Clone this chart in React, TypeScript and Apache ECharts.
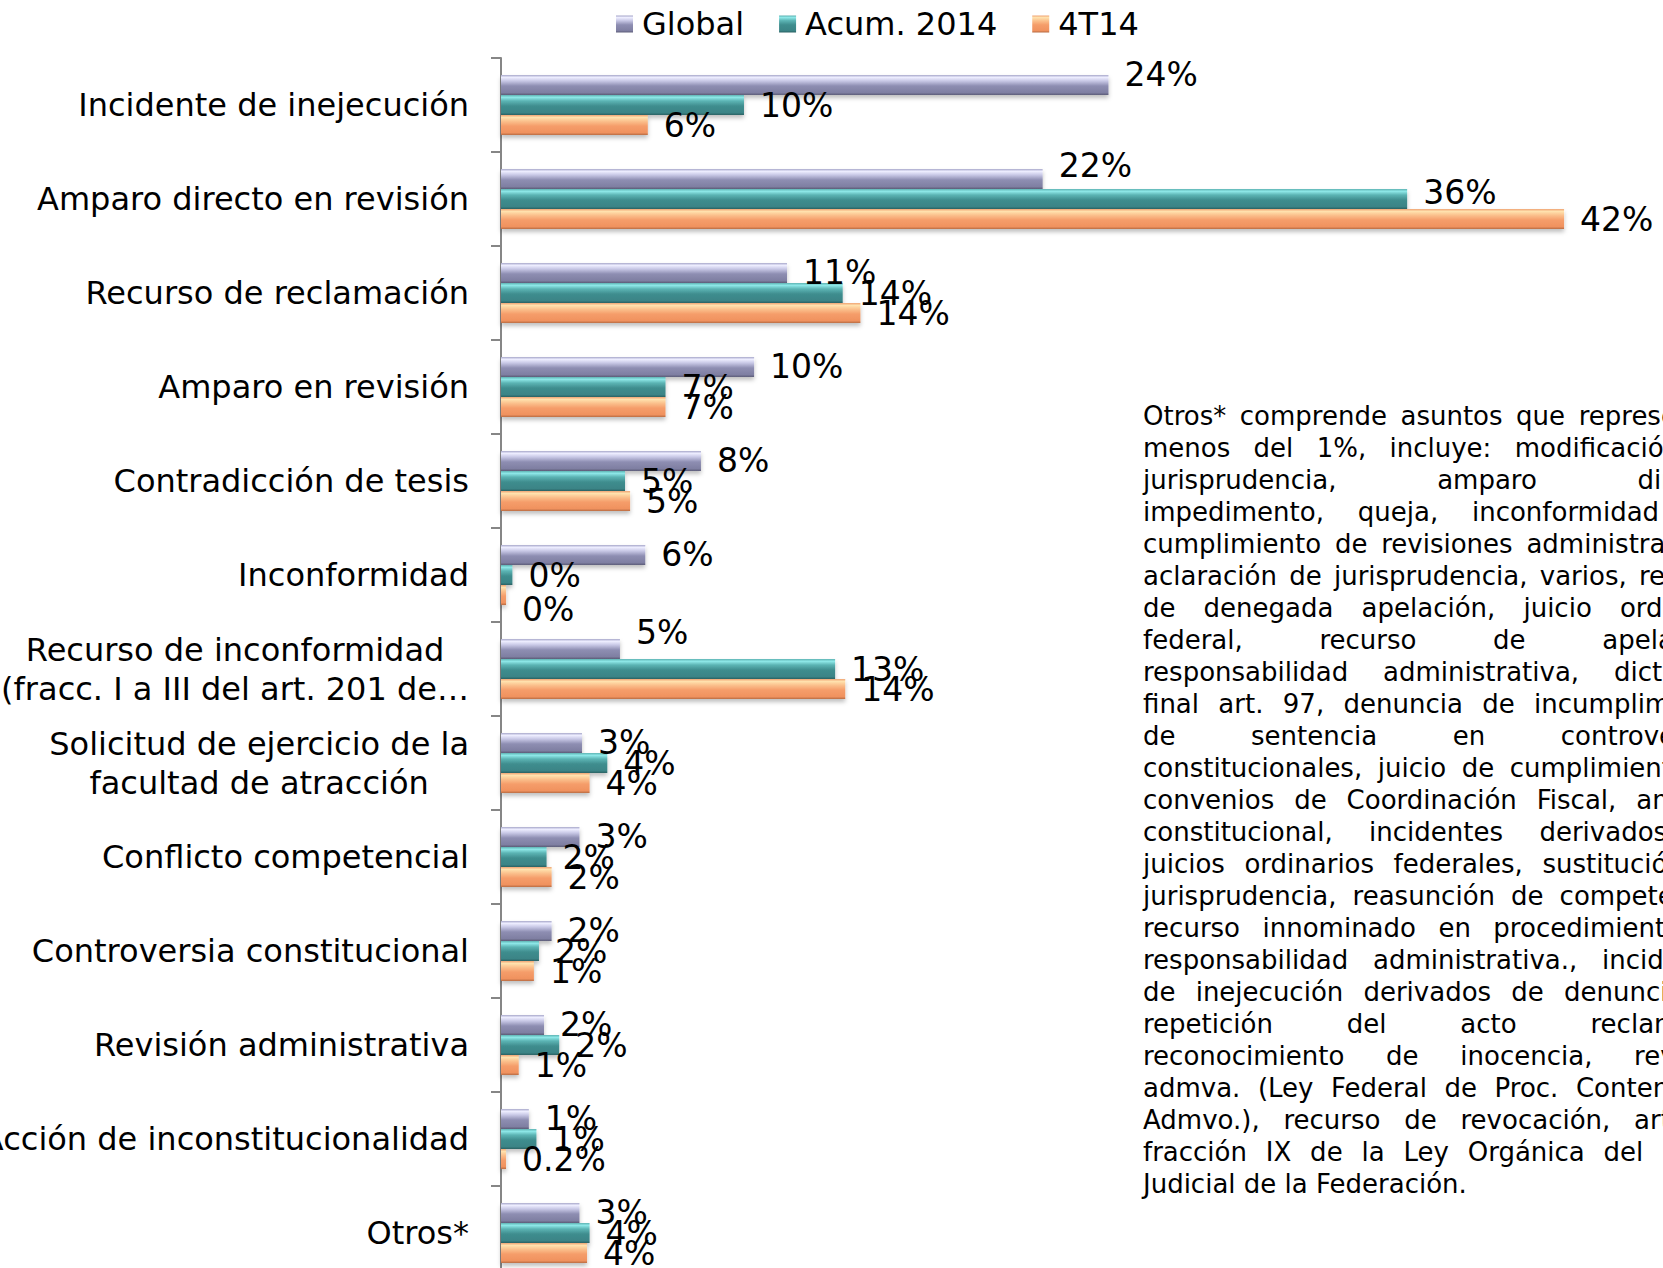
import React, { useEffect, useRef } from "react";
import * as echarts from "echarts";

const categories = [
  "Incidente de inejecución",
  "Amparo directo en revisión",
  "Recurso de reclamación",
  "Amparo en revisión",
  "Contradicción de tesis",
  "Inconformidad",
  "Recurso de inconformidad\n(fracc. I a III del art. 201 de…",
  "Solicitud de ejercicio de la\nfacultad de atracción",
  "Conflicto competencial",
  "Controversia constitucional",
  "Revisión administrativa",
  "Acción de inconstitucionalidad",
  "Otros*",
];
const seriesNames = ["Global", "Acum. 2014", "4T14"];
const globalValues = [24, 21.4, 11.3, 10, 7.9, 5.7, 4.7, 3.2, 3.1, 2.0, 1.7, 1.1, 3.1];
const acumValues = [9.6, 35.8, 13.5, 6.5, 4.9, 0.45, 13.2, 4.2, 1.8, 1.5, 2.3, 1.4, 3.5];
const t4Values = [5.8, 42, 14.2, 6.5, 5.1, 0.2, 13.6, 3.5, 2.0, 1.3, 0.7, 0.2, 3.4];
const globalLabels = ["24%", "22%", "11%", "10%", "8%", "6%", "5%", "3%", "3%", "2%", "2%", "1%", "3%"];
const acumLabels = ["10%", "36%", "14%", "7%", "5%", "0%", "13%", "4%", "2%", "2%", "2%", "1%", "4%"];
const t4Labels = ["6%", "42%", "14%", "7%", "5%", "0%", "14%", "4%", "2%", "1%", "1%", "0.2%", "4%"];

const noteLines = [
  "Otros* comprende asuntos que representan",
  "menos del 1%, incluye: modificación de",
  "jurisprudencia, amparo directo,",
  "impedimento, queja, inconformidad por",
  "cumplimiento de revisiones administrativas,",
  "aclaración de jurisprudencia, varios, recurso",
  "de denegada apelación, juicio ordinario",
  "federal, recurso de apelación,",
  "responsabilidad administrativa, dictamen",
  "final art. 97, denuncia de incumplimiento",
  "de sentencia en controversias",
  "constitucionales, juicio de cumplimiento de",
  "convenios de Coordinación Fiscal, amparo",
  "constitucional, incidentes derivados de",
  "juicios ordinarios federales, sustitución de",
  "jurisprudencia, reasunción de competencia,",
  "recurso innominado en procedimiento de",
  "responsabilidad administrativa., incidentes",
  "de inejecución derivados de denuncia de",
  "repetición del acto reclamado,",
  "reconocimiento de inocencia, revisión",
  "admva. (Ley Federal de Proc. Contencioso",
  "Admvo.), recurso de revocación, art. 11",
  "fracción IX de la Ley Orgánica del Poder",
  "Judicial de la Federación.",
];

const FONT = '"DejaVu Sans", Verdana, sans-serif';

const grad = (stops: [number, string][]) =>
  new echarts.graphic.LinearGradient(0, 0, 0, 1, stops.map(([offset, color]) => ({ offset, color })));

const seriesColors = [
  grad([[0, "#a4a4c8"], [0.12, "#eeeeff"], [0.3, "#c8c8e6"], [0.55, "#8e8eb2"], [0.88, "#7f7fa2"], [1, "#5e5e7a"]]),
  grad([[0, "#5db2b2"], [0.12, "#8ee8e8"], [0.3, "#5cb4b4"], [0.55, "#3f8d8e"], [0.88, "#3b8486"], [1, "#2a6264"]]),
  grad([[0, "#f0a474"], [0.12, "#ffe2ae"], [0.3, "#fbc28e"], [0.55, "#f59d6a"], [0.88, "#f0925f"], [1, "#b86a42"]]),
];

// small vertical nudges of a few labels, as in the reference
const labelNudge: Record<string, number> = {
  "0-0": -10,
  "0-1": -13,
  "0-6": -16,
  "1-1": -7,
  "2-5": 14,
};

function buildNote(): any[] {
  const fontSize = 26;
  const font = `${fontSize}px ${FONT}`;
  const canvas = document.createElement("canvas");
  const ctx = canvas.getContext("2d")!;
  ctx.font = font;
  const x0 = 1143;
  const y0 = 416;
  const step = 32;
  const W = 593;
  const spaceW = ctx.measureText(" ").width;
  const els: any[] = [];
  noteLines.forEach((line, i) => {
    const words = line.split(" ");
    const widths = words.map((w) => ctx.measureText(w).width);
    const total = widths.reduce((a, b) => a + b, 0);
    const last = i === noteLines.length - 1;
    let gap = spaceW;
    if (!last && words.length > 1) gap = Math.max(spaceW * 0.6, (W - total) / (words.length - 1));
    let x = x0;
    words.forEach((w, j) => {
      els.push({
        type: "text",
        x,
        y: y0 + i * step,
        silent: true,
        style: { text: w, fill: "#000", font, verticalAlign: "middle", align: "left" },
      });
      x += widths[j] + gap;
    });
  });
  return els;
}

export default function App() {
  const ref = useRef<HTMLDivElement>(null);
  useEffect(() => {
    const chart = echarts.init(ref.current!, undefined, { renderer: "svg" });
    const valueSets = [globalValues, acumValues, t4Values];
    const labelSets = [globalLabels, acumLabels, t4Labels];
    const option: any = {
      animation: false,
      backgroundColor: "#ffffff",
      legend: {
        top: 1,
        left: 611,
        itemWidth: 17,
        itemHeight: 17,
        itemGap: 35,
        icon: "rect",
        textStyle: { fontFamily: FONT, fontSize: 32, color: "#000", lineHeight: 36, padding: [0, 0, 0, 4] },
        data: seriesNames,
      },
      grid: {
        left: 501,
        top: 58,
        width: 1139,
        height: 1222,
        containLabel: false,
        outerBoundsMode: "none",
      },
      xAxis: { type: "value", min: 0, max: 45, show: false },
      yAxis: {
        type: "category",
        inverse: true,
        data: categories,
        axisLine: { show: true, lineStyle: { color: "#868686", width: 2 } },
        axisTick: { show: true, length: 10, lineStyle: { color: "#868686", width: 2 } },
        splitLine: { show: false },
        axisLabel: {
          margin: 32,
          align: "right",
          color: "#000",
          fontFamily: FONT,
          fontSize: 32,
          formatter: (v: string) => v.split("\n").map((l) => `{c|${l}}`).join("\n"),
          rich: { c: { align: "center", fontFamily: FONT, fontSize: 32, color: "#000", lineHeight: 39 } },
        },
      },
      series: seriesNames.map((name, si) => ({
        name,
        type: "bar",
        barGap: "0%",
        barCategoryGap: "36%",
        itemStyle: {
          color: seriesColors[si],
          shadowColor: "rgba(0,0,0,0.25)",
          shadowBlur: 4,
          shadowOffsetY: 3,
        },
        label: {
          show: true,
          position: "right",
          distance: 16,
          color: "#000",
          fontFamily: FONT,
          fontSize: 33,
        },
        data: valueSets[si].map((v, i) => {
          const nudge = labelNudge[`${si}-${i}`] || 0;
          return {
            value: v,
            label: { formatter: labelSets[si][i], offset: [0, nudge] },
          };
        }),
      })),
      graphic: buildNote(),
    };
    chart.setOption(option);
    return () => chart.dispose();
  }, []);
  return (
    <div
      ref={ref}
      style={{ position: "fixed", left: 0, top: 0, width: 1663, height: 1268, background: "#fff" }}
    />
  );
}
